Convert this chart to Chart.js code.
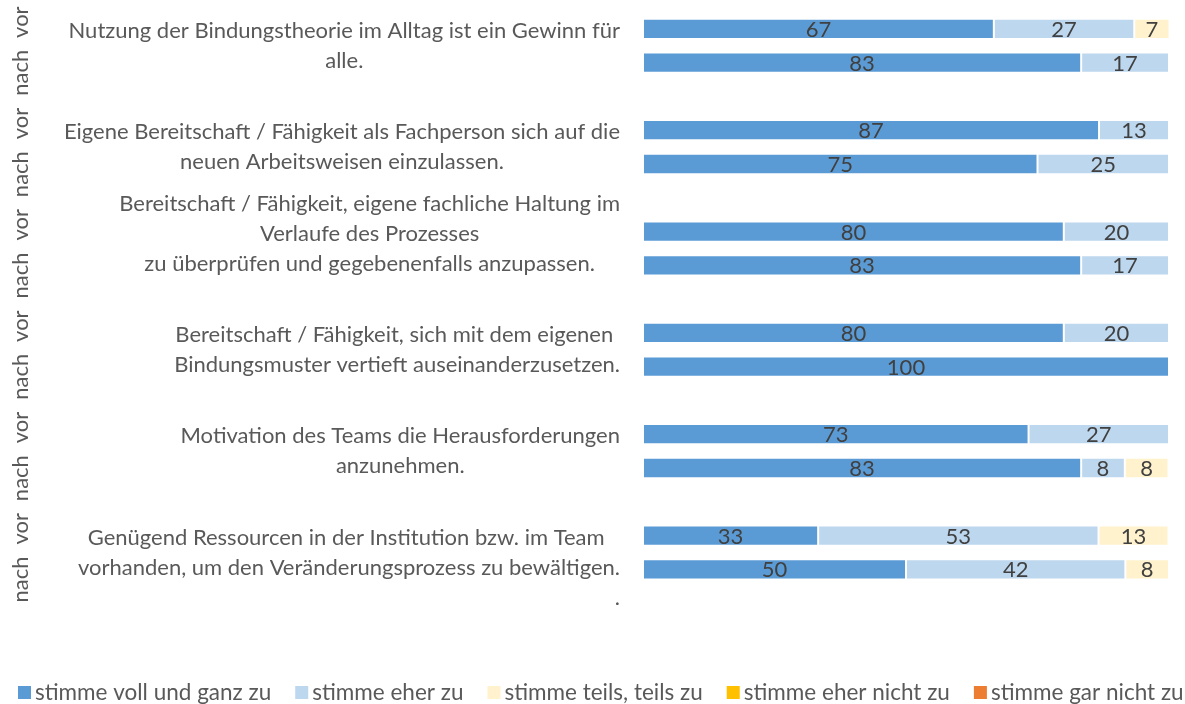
<!DOCTYPE html>
<html>
<head>
<meta charset="utf-8">
<script src="https://cdn.jsdelivr.net/npm/chart.js@4.4.1/dist/chart.umd.min.js"></script>
<style>
  body { margin: 0; background: #fff; }
  #wrap { width: 1185px; height: 704px; position: relative; }
</style>
</head>
<body>
<div id="wrap"><canvas id="chart"></canvas></div>
<script>
// 18 slots: vor / nach pairs with an empty spacer after each pair
const rowLabels = ['vor', 'nach', '', 'vor', 'nach', '', 'vor', 'nach', '', 'vor', 'nach', '', 'vor', 'nach', '', 'vor', 'nach', ''];

// axis text on the left, evenly spread as in the original
const sideLabels = ['vor', 'nach', 'vor', 'nach', 'vor', 'nach', 'vor', 'nach', 'vor', 'nach', 'vor', 'nach'];

const groupLabels = [
  ['Nutzung der Bindungstheorie im Alltag ist ein Gewinn für', 'alle.'],
  ['Eigene Bereitschaft / Fähigkeit als Fachperson sich auf die', 'neuen Arbeitsweisen einzulassen.'],
  ['Bereitschaft / Fähigkeit, eigene fachliche Haltung im', 'Verlaufe des Prozesses', 'zu überprüfen und gegebenenfalls anzupassen.', ''],
  ['Bereitschaft / Fähigkeit, sich mit dem eigenen ', 'Bindungsmuster vertieft auseinanderzusetzen.'],
  ['Motivation des Teams die Herausforderungen', 'anzunehmen.'],
  ['', 'Genügend Ressourcen in der Institution bzw. im Team ', 'vorhanden, um den Veränderungsprozess zu bewältigen.', '.']
];

const seriesNames = ['stimme voll und ganz zu', 'stimme eher zu', 'stimme teils, teils zu', 'stimme eher nicht zu', 'stimme gar nicht zu'];

const vollUndGanz = [66.7, 83.3, null, 86.7, 75, null, 80, 83.3, null, 80, 100, null, 73.3, 83.3, null, 33.3, 50, null];
const eher        = [26.7, 16.7, null, 13.3, 25, null, 20, 16.7, null, 20, 0, null, 26.7, 8.3, null, 53.3, 41.7, null];
const teils       = [6.7, 0, null, 0, 0, null, 0, 0, null, 0, 0, null, 0, 8.3, null, 13.3, 8.3, null];
const eherNicht   = [0, 0, null, 0, 0, null, 0, 0, null, 0, 0, null, 0, 0, null, 0, 0, null];
const garNicht    = [0, 0, null, 0, 0, null, 0, 0, null, 0, 0, null, 0, 0, null, 0, 0, null];

const colors = ['#5B9BD5', '#BDD7EE', '#FFF2CC', '#FFC000', '#ED7D31'];
const seriesData = [vollUndGanz, eher, teils, eherNicht, garNicht];

const FONT = 'Lato, "Noto Sans", sans-serif';
const TEXT = '#595959';

const labelPlugin = {
  id: 'labels',
  afterDraw(chart) {
    const c = chart.ctx;
    const yScale = chart.scales.y;
    c.save();

    // values inside the bars
    c.font = '22px ' + FONT;
    c.fillStyle = '#404040';
    c.textAlign = 'center';
    c.textBaseline = 'middle';
    chart.data.datasets.forEach((ds, i) => {
      chart.getDatasetMeta(i).data.forEach((bar, j) => {
        const v = ds.data[j];
        if (!v) return;
        c.fillText(Math.round(v), (bar.x + bar.base) / 2, bar.y + 1);
      });
    });

    // rotated vor / nach labels
    c.fillStyle = TEXT;
    sideLabels.forEach((lab, i) => {
      c.save();
      c.translate(21, yScale.getPixelForValue(-0.2 + i * 1.5));
      c.rotate(-Math.PI / 2);
      c.fillText(lab, 0, 0);
      c.restore();
    });

    // group labels, block right aligned, lines centered
    const lh = 30;
    const right = 620;
    groupLabels.forEach((lines, g) => {
      const cy = (yScale.getPixelForValue(g * 3) + yScale.getPixelForValue(g * 3 + 1)) / 2;
      const w = Math.max(...lines.map(l => c.measureText(l).width));
      const cx = right - w / 2;
      const top = cy - (lines.length - 1) * lh / 2;
      lines.forEach((l, k) => {
        if (l === '.') {
          c.textAlign = 'right';
          c.fillText(l, right, top + k * lh);
          c.textAlign = 'center';
        } else {
          c.fillText(l, cx, top + k * lh);
        }
      });
    });

    // legend
    c.font = '22.5px ' + FONT;
    c.textAlign = 'left';
    const box = 13, gap = 4, space = 24;
    const widths = seriesNames.map(n => box + gap + c.measureText(n).width);
    const total = widths.reduce((a, b) => a + b, 0) + space * (widths.length - 1);
    let x = Math.max(18, (chart.width - total) / 2);
    const ly = 693;
    seriesNames.forEach((n, i) => {
      c.fillStyle = colors[i];
      c.fillRect(x, ly - 7, box, box);
      c.fillStyle = TEXT;
      c.fillText(n, x + box + gap, ly);
      x += widths[i] + space;
    });

    c.restore();
  }
};

new Chart(document.getElementById('chart'), {
  type: 'bar',
  data: {
    labels: rowLabels,
    datasets: seriesNames.map((name, i) => ({
      label: name,
      data: seriesData[i],
      backgroundColor: colors[i],
      borderColor: '#ffffff',
      borderWidth: 1,
      borderSkipped: false,
      categoryPercentage: 1,
      barPercentage: 0.6
    }))
  },
  options: {
    indexAxis: 'y',
    responsive: true,
    maintainAspectRatio: false,
    animation: false,
    layout: { padding: { left: 643, right: 16, top: 12, bottom: 84 } },
    scales: {
      x: { stacked: true, min: 0, max: 100, display: false },
      y: { stacked: true, display: false }
    },
    plugins: {
      legend: { display: false },
      tooltip: { enabled: false }
    }
  },
  plugins: [labelPlugin]
});
</script>
</body>
</html>
